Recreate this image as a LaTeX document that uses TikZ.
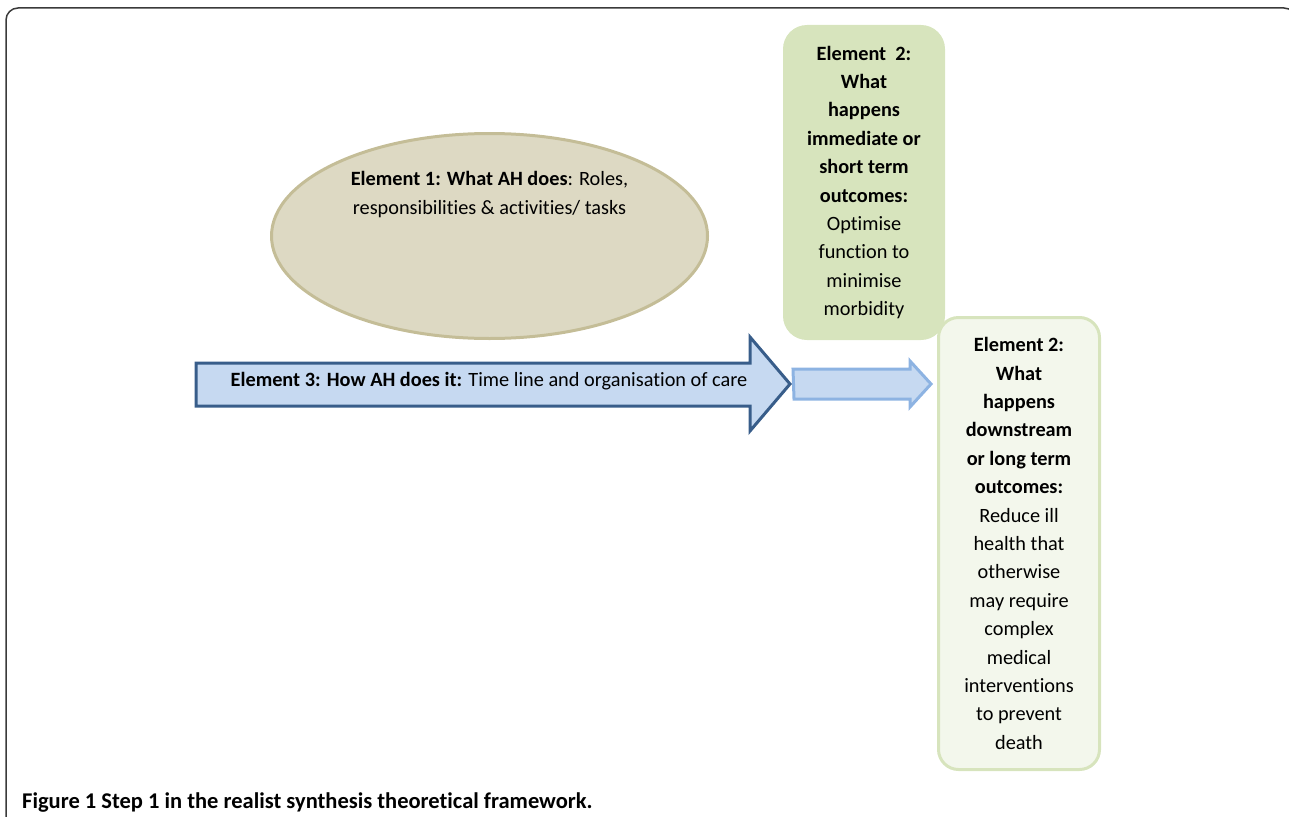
\documentclass[tikz,border=0pt]{standalone}
\usepackage{fontspec}
\setmainfont{Carlito}[Ligatures={NoCommon}]
\usepackage{tikz}
\usetikzlibrary{positioning,shapes.geometric}
\definecolor{tanfill}{HTML}{DDD9C3}
\definecolor{tanline}{HTML}{C4BD97}
\definecolor{bluefill}{HTML}{C6D9F1}
\definecolor{blueline}{HTML}{385D8A}
\definecolor{paleblueline}{HTML}{8DB3E2}
\definecolor{greenfill}{HTML}{D7E4BD}
\definecolor{palegreen}{HTML}{F3F7EC}
\definecolor{frameline}{HTML}{3A3A3A}

\begin{document}
\begin{tikzpicture}[x=1pt,y=-1pt,line join=miter]
\tikzstyle{txt}=[font=\fontsize{20.3}{28.4}\selectfont, align=center, inner sep=0pt]
\tikzstyle{outbox}=[rectangle, txt, minimum width=162pt]
\tikzstyle{blockarrow}=[fill=bluefill, line width=3pt]
\useasboundingbox (0,0) rectangle (1289,816);
\begin{scope}
\clip (0,0) rectangle (1289,816);
\draw[frameline, line width=1.5pt, rounded corners=12pt] (6,840) -- (6,8) -- (1296,8) -- (1296,840);
\end{scope}
\node[ellipse, fill=tanfill, draw=tanline, line width=3pt, minimum width=436pt, minimum height=205pt] (does) at (489.5,236) {};
\node[txt] (doestext) at ([yshift=41.5pt]does.center) {\textbf{Element 1: What AH does}: Roles,\\responsibilities \& activities/ tasks};
\coordinate (howtip) at (790,384);
\draw[blockarrow, draw=blueline] (196,363) -- (750,363) -- (750,337) -- (howtip) -- (750,431) -- (750,406) -- (196,406) -- cycle;
\node[txt] (how) at (489,381) {\textbf{Element 3: How AH does it:} Time line and organisation of care};
\node[outbox, fill=greenfill, rounded corners=24pt, minimum height=315pt] (shortterm) at (864,182.5)
  {\textbf{Element\ \ 2:}\\\textbf{What}\\\textbf{happens}\\\textbf{immediate or}\\\textbf{short term}\\\textbf{outcomes:}\\Optimise\\function to\\minimise\\morbidity};
\node[outbox, fill=palegreen, draw=greenfill, line width=3pt, rounded corners=20pt, minimum width=161pt, minimum height=452pt] (longterm) at (1019,543.5)
  {\textbf{Element 2:}\\\textbf{What}\\\textbf{happens}\\\textbf{downstream}\\\textbf{or long term}\\\textbf{outcomes:}\\Reduce ill\\health that\\otherwise\\may require\\complex\\medical\\interventions\\to prevent\\death};
\draw[blockarrow, draw=paleblueline] ([xshift=3pt]howtip) ++(0,-15) -- (910,369) -- (910,361) -- ([xshift=-6pt]longterm.west |- howtip) -- (910,407) -- (910,399) -- (794,399) -- cycle;
\node[anchor=base west, inner sep=0pt, font=\fontsize{22.5}{24}\selectfont\bfseries] (caption) at (22,808) {Figure 1 Step 1 in the realist synthesis theoretical framework.};
\end{tikzpicture}
\end{document}
